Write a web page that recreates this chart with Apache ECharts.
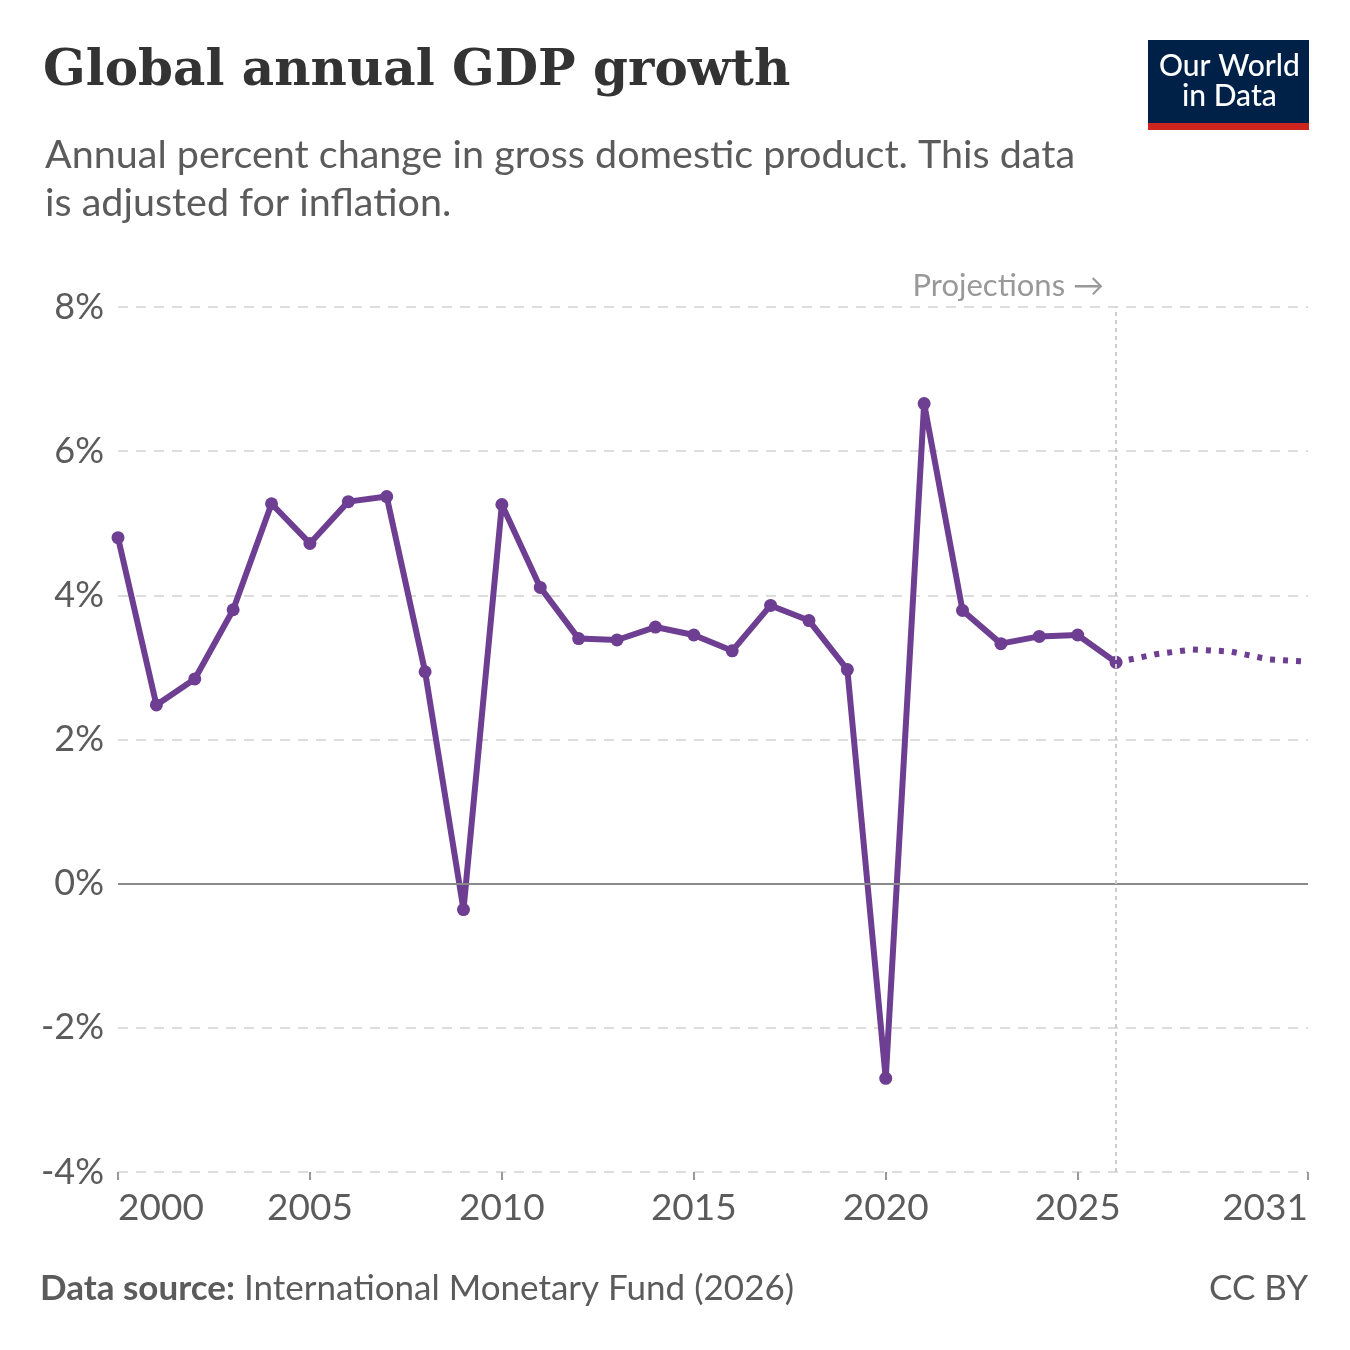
<!DOCTYPE html>
<html><head><meta charset="utf-8">
<script src="https://cdn.jsdelivr.net/npm/echarts@6/dist/echarts.min.js"></script>
<style>html,body{margin:0;padding:0;background:#fff}#c{width:1350px;height:1350px}</style>
</head><body><div id="c"></div>
<script>
const histYears = [];
for (let y = 2000; y <= 2026; y++) histYears.push(y);
const projYears = [2026,2027,2028,2029,2030,2031];
const historical = [4.80,2.48,2.84,3.80,5.27,4.72,5.30,5.37,2.94,-0.36,5.26,4.11,3.40,3.38,3.56,3.45,3.23,3.86,3.65,2.97,-2.70,6.66,3.79,3.33,3.43,3.45,3.07];
const projections = [3.07,3.18,3.25,3.22,3.11,3.08];
const tickYears = [2000,2005,2010,2015,2020,2025,2031];
const histData = histYears.map((y,i)=>[y,historical[i]]);
const projData = projYears.map((y,i)=>[y,projections[i]]);
const chart = echarts.init(document.getElementById('c'));
const gray = '#5b5b5b', font = 'Lato';
chart.setOption({
  animation:false,
  textStyle:{fontFamily:font},
  grid:{left:118,right:42,top:307,bottom:178},
  title:[
    {text:'Global annual GDP growth',left:38,top:42,textStyle:{fontFamily:'DejaVu Serif',fontWeight:'bold',fontSize:50,color:'#333'}},
    {text:'Annual percent change in gross domestic product. This data\nis adjusted for inflation.',left:40,top:126,textStyle:{fontFamily:font,fontWeight:'normal',fontSize:39.5,lineHeight:48,color:gray}}
  ],
  graphic:[
    {type:'rect',left:1148,top:40,shape:{width:161,height:90},style:{fill:'#002147'}},
    {type:'rect',left:1148,top:123,shape:{width:161,height:7},style:{fill:'#CE261E'}},
    {type:'text',left:1159,top:51,style:{text:'Our World',fill:'#fff',font:'500 30px Lato'}},
    {type:'text',left:1182,top:81,style:{text:'in Data',fill:'#fff',font:'500 30px Lato'}},
    {type:'text',right:1350-1104,top:270,style:{text:'Projections →',fill:'#999',font:'31px Lato',textAlign:'right'}},
    {type:'text',left:40,top:1271,style:{rich:{b:{fontWeight:'bold',fontSize:35,fill:gray,fontFamily:font},n:{fontSize:35,fill:gray,fontFamily:font}},text:'{b|Data source:}{n| International Monetary Fund (2026)}'}},
    {type:'text',right:42,top:1271,style:{text:'CC BY',fill:gray,font:'35px Lato',textAlign:'right'}}
  ],
  xAxis:{type:'value',min:2000,max:2031,
    axisLine:{show:false,onZero:false},
    axisTick:{show:true,length:8,lineStyle:{color:'#999',width:2},customValues:tickYears},
    axisLabel:{customValues:tickYears,fontSize:37,color:gray,margin:18,fontFamily:font,alignMinLabel:'left',alignMaxLabel:'right',formatter:v=>String(v)},
    splitLine:{show:false}},
  yAxis:{type:'value',min:-4,max:8,interval:2,
    axisLabel:{formatter:'{value}%',fontSize:36,color:gray,margin:14,fontFamily:font},
    axisLine:{show:false},axisTick:{show:false},
    splitLine:{lineStyle:{color:'#ddd',type:[10,8],width:2}}},
  series:[
    {type:'line',data:histData,symbol:'circle',symbolSize:13,
     lineStyle:{color:'#6D3E91',width:6},itemStyle:{color:'#6D3E91'},
     markLine:{silent:true,symbol:'none',label:{show:false},data:[
       {yAxis:0,lineStyle:{color:'#8a8a8a',type:'solid',width:2}},
       {xAxis:2026,lineStyle:{color:'#ccc',type:[4,4],width:2}}
     ]}},
    {type:'line',data:projData,symbol:'none',
     lineStyle:{color:'#6D3E91',width:6,type:[5,8]}}
  ]
});
</script></body></html>
